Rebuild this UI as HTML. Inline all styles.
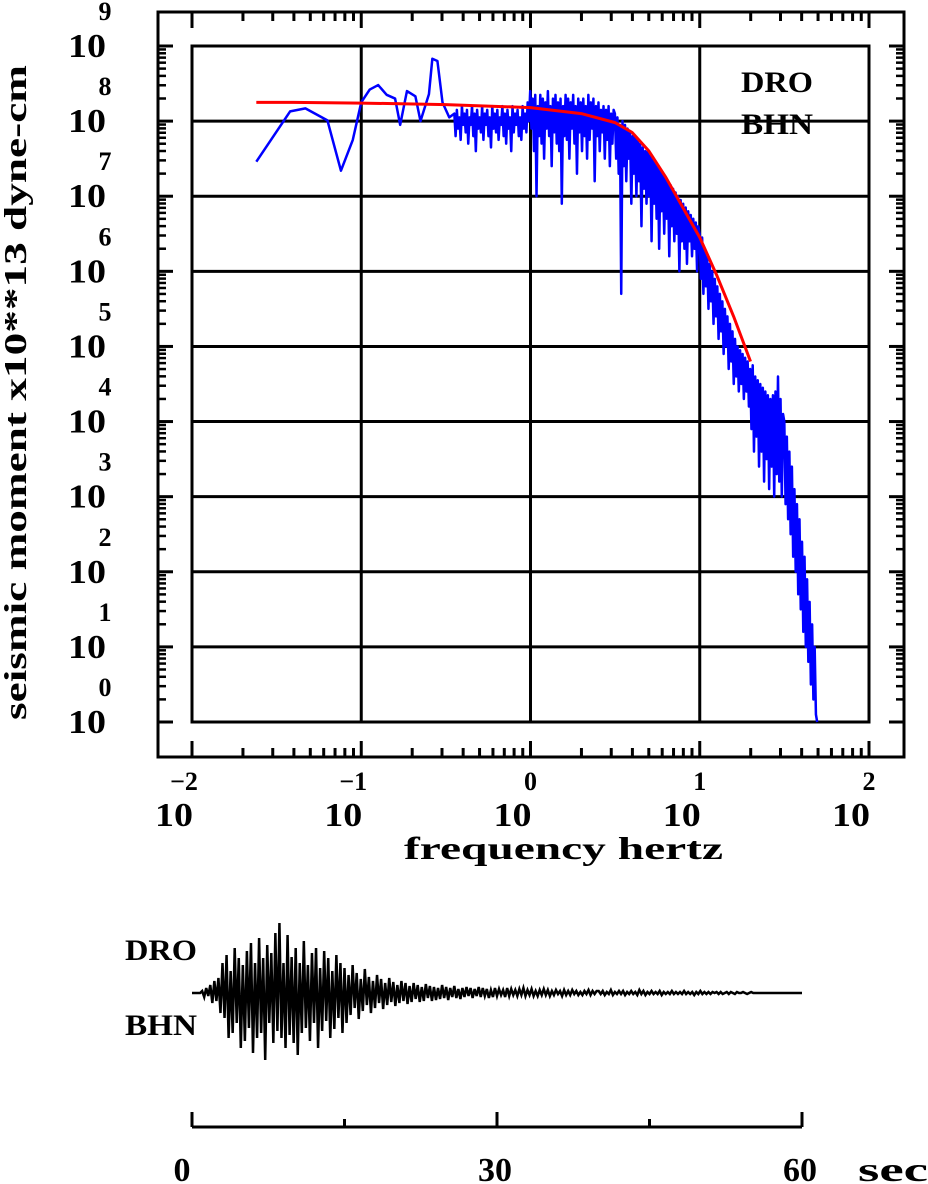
<!DOCTYPE html>
<html><head><meta charset="utf-8">
<style>
html,body{margin:0;padding:0;background:#fff;}
svg{display:block;}
text{font-family:"Liberation Serif",serif;font-weight:bold;fill:#000;}
</style></head>
<body>
<svg id="chart" width="928" height="1184" viewBox="0 0 928 1184" xmlns="http://www.w3.org/2000/svg">
<g id="frame"></g>
<g id="grid"></g>
<g id="ticks"></g>
<g id="labels"></g>
<g id="series"></g>
<text x="777" y="92" font-size="30" text-anchor="middle" textLength="72" lengthAdjust="spacingAndGlyphs">DRO</text>
<text x="777" y="134" font-size="30" text-anchor="middle" textLength="72" lengthAdjust="spacingAndGlyphs">BHN</text>
<text x="404" y="859" font-size="32" textLength="319" lengthAdjust="spacingAndGlyphs">frequency  hertz</text>
<text transform="translate(26,720) rotate(-90)" font-size="32" textLength="655" lengthAdjust="spacingAndGlyphs">seismic moment x10**13 dyne-cm</text>
<text x="125" y="960" font-size="30" textLength="72" lengthAdjust="spacingAndGlyphs">DRO</text>
<text x="125" y="1035" font-size="30" textLength="72" lengthAdjust="spacingAndGlyphs">BHN</text>
<g id="trace"></g>
<g id="taxis"></g>
</svg>
<script>
// ---- spectrum data (log10 frequency, log10 moment) ----
const lowFreqLog = [-1.62,-1.42,-1.33,-1.2,-1.12,-1.05,-1.0,-0.95,-0.9,-0.85,-0.8,-0.77,-0.73,-0.68,-0.65,-0.6,-0.58,-0.55,-0.52,-0.48];
const lowAmpLog = [7.46,8.13,8.17,8.01,7.34,7.75,8.25,8.42,8.48,8.35,8.3,7.95,8.4,8.33,8.0,8.36,8.83,8.8,8.25,8.05];
const denseStartLog = -0.45;
const denseStepLog = 0.00747;
const denseAmpLog = [
8.1,7.8,8.15,7.9,8.05,7.75,8.2,7.95,8.1,7.85,8.15,7.7,8.05,7.95,8.2,7.8,8.1,7.6,8.15,7.9,8.05,7.85,8.2,7.75,8.1,7.95,8.15,7.8,8.05,7.65,8.2,7.9,8.1,7.85,8.15,7.75,8.05,7.95,8.2,7.8,8.1,7.7,8.15,7.9,8.05,7.6,8.2,7.85,8.1,7.95,8.15,7.8,8.05,7.75,8.2,7.9,8.1,7.85,8.25,8.0,
8.4,7.9,8.3,7.6,8.35,7.0,8.2,7.8,8.35,7.7,8.3,7.5,8.25,7.9,8.4,7.8,8.2,7.4,8.3,7.85,8.35,7.7,8.25,7.6,8.3,6.9,8.2,7.8,8.35,7.75,8.3,7.5,8.25,7.9,8.35,7.7,8.2,7.3,8.3,7.85,8.25,7.6,8.3,7.8,8.2,7.5,8.35,7.75,8.25,7.9,8.3,7.2,8.2,7.8,8.25,7.6,8.15,7.85,8.2,7.5,8.15,7.75,8.2,7.4,8.1,7.7,8.15,
8.1,7.5,8.05,7.3,7.95,5.7,8.0,7.4,7.95,7.2,7.9,7.5,7.85,6.9,7.8,7.3,7.8,7.0,7.75,7.2,7.7,6.6,7.65,7.1,7.6,6.9,7.6,7.0,7.55,6.4,7.5,6.9,7.45,6.7,7.4,6.3,7.35,6.8,7.3,6.5,7.25,6.7,7.2,6.2,7.15,6.6,7.1,6.4,7.05,6.5,7.0,6.0,6.95,6.4,6.9,6.3,6.85,6.1,6.8,6.4,6.75,6.2,6.7,6.3,6.65,6.0,6.6,
6.5,5.9,6.45,5.7,6.3,5.8,6.2,5.5,6.1,5.6,6.0,5.3,5.9,5.4,5.8,5.1,5.7,5.2,5.6,4.9,5.5,5.0,5.4,4.7,5.3,4.8,5.2,4.5,5.1,4.6,5.0,4.4,4.95,4.5,4.9,4.3,4.85,4.4,4.8,4.2,
4.7,3.9,4.75,3.6,4.6,3.8,4.55,3.4,4.5,3.6,4.45,3.2,4.4,3.5,4.35,3.1,4.3,3.4,4.35,3.0,4.4,3.3,4.6,3.2,4.3,3.0,4.1,
4.0,2.9,3.8,2.7,3.6,2.5,3.4,2.2,3.1,2.0,2.9,1.7,2.7,1.5,2.4,1.2,2.2,1.0,1.9,0.8,1.6,0.5,1.3,0.3,1.0,0.1,0.0];
const modelFreqLog = [-1.62,-1.4,-1.0,-0.5,0,0.3,0.5,0.6,0.7,0.8,0.9,1.0,1.1,1.2,1.3];
const modelAmpLog = [8.25,8.25,8.24,8.22,8.18,8.1,7.98,7.85,7.6,7.25,6.85,6.45,5.95,5.4,4.8];
const xDecades = [-2,-1,0,1,2];
const yDecades = [0,1,2,3,4,5,6,7,8,9];
// ---- seismogram data (counts, 0.2 s sample) ----
const traceDt = 0.2;
const traceAmp = [0,0,0,0,0,
2,-4,5,-3,8,-10,12,-8,15,-20,
30,-25,38,-45,22,-40,45,-30,35,-55,28,-48,42,-35,50,-60,30,-45,55,-40,35,-67,48,-30,40,-50,60,-38,70,-45,30,-55,58,-42,36,-50,45,-62,30,-40,52,-35,28,-48,40,-30,45,-55,25,-38,42,-28,35,-45,22,-36,38,-25,30,-40,
25,-30,18,-22,28,-15,20,-26,14,-18,24,-12,16,-20,12,-15,18,-10,14,-16,10,-12,15,-9,11,-13,8,-10,12,-8,10,-11,7,-9,10,-6,8,-9,6,-8,9,-5,7,-8,6,-7,5,-6,8,-5,
6,-7,5,-4,7,-5,4,-6,5,-4,6,-3,5,-5,4,-3,6,-4,5,-3,4,-5,3,-4,5,-3,4,-2,3,-4,5,-3,4,-2,3,-3,4,-2,5,-3,3,-2,4,-3,2,-3,3,-2,4,-2,3,-3,2,-2,3,-1,2,-3,3,-2,2,-2,3,-1,2,-2,1,-2,2,-1,3,-2,2,-1,2,
2,-1,2,-2,1,-1,3,-2,1,-1,2,-1,2,-2,1,-1,2,-1,1,-2,3,-1,2,-2,1,-1,2,-1,1,-1,2,-2,1,-1,1,-1,2,-1,1,-1,1,-1,2,-1,1,-1,1,-2,1,-1,2,-1,1,-1,1,-1,1,0,1,-1,1,-1,0,1,-1,1,0,-1,1,0,0,1,0,-1,0,1,0,0,0,0,0,0,0,0,0,0,0,0,0,0,0,0,0,0,0,0,0,0,0,0];
const timeTicks = [0,30,60];

const NS="http://www.w3.org/2000/svg";
function mk(tag, attrs, parent){const e=document.createElementNS(NS,tag);for(const k in attrs)e.setAttribute(k,attrs[k]);parent.appendChild(e);return e;}
const X0=192,X1=869,Y0=722,Y1=46;
const xs = l => X0 + (l+2)*(X1-X0)/4;
const ys = l => Y0 - l*(Y0-Y1)/9;
const frame=document.getElementById('frame'),grid=document.getElementById('grid'),ticks=document.getElementById('ticks'),labels=document.getElementById('labels'),series=document.getElementById('series');

let r=mk('rect',{x:158,y:12,width:746,height:745,fill:'none',stroke:'#000','stroke-width':3},frame);


r=mk('rect',{x:X0,y:Y1,width:X1-X0,height:Y0-Y1,fill:'none',stroke:'#000','stroke-width':3},frame);



xDecades.forEach(d=>{
  const x=xs(d);
  let g=mk('line',{x1:x,y1:Y1,x2:x,y2:Y0,stroke:'#000','stroke-width':3},grid);
  
  
  mk('line',{x1:x,y1:757,x2:x,y2:741,stroke:'#000','stroke-width':3},ticks);
  mk('line',{x1:x,y1:12,x2:x,y2:28,stroke:'#000','stroke-width':3},ticks);
  if(d<2){for(let m=2;m<=9;m++){const xm=xs(d+Math.log10(m));
    mk('line',{x1:xm,y1:757,x2:xm,y2:748,stroke:'#000','stroke-width':3},ticks);
    mk('line',{x1:xm,y1:12,x2:xm,y2:21,stroke:'#000','stroke-width':3},ticks);}}
  let t=mk('text',{x:x-18,y:826,'font-size':34,'text-anchor':'middle',textLength:38,lengthAdjust:'spacingAndGlyphs'},labels);t.textContent='10';
  
  
  t=mk('text',{x:x-(d<0?8:0),y:790,'font-size':26,'text-anchor':'middle'},labels);t.textContent=(d<0?'\u2212':'')+Math.abs(d);
  
  
});
yDecades.forEach(d=>{
  const y=ys(d);
  let g=mk('line',{x1:X0,y1:y,x2:X1,y2:y,stroke:'#000','stroke-width':3},grid);
  
  
  mk('line',{x1:158,y1:y,x2:173,y2:y,stroke:'#000','stroke-width':3},ticks);
  mk('line',{x1:904,y1:y,x2:889,y2:y,stroke:'#000','stroke-width':3},ticks);
  if(d<9){for(let m=2;m<=9;m++){const ym=ys(d+Math.log10(m));
    mk('line',{x1:158,y1:ym,x2:166,y2:ym,stroke:'#000','stroke-width':2.5},ticks);
    mk('line',{x1:904,y1:ym,x2:896,y2:ym,stroke:'#000','stroke-width':2.5},ticks);}}
  let t=mk('text',{x:87,y:y+11,'font-size':34,'text-anchor':'middle',textLength:38,lengthAdjust:'spacingAndGlyphs'},labels);t.textContent='10';
  
  
  t=mk('text',{x:105,y:y-26,'font-size':26,'text-anchor':'middle'},labels);t.textContent=String(d);
  
  
});

// blue spectrum
let pts=[];
lowFreqLog.forEach((f,i)=>pts.push(xs(f)+','+ys(lowAmpLog[i])));
denseAmpLog.forEach((a,i)=>pts.push(xs(denseStartLog+i*denseStepLog)+','+ys(a)));
let p=mk('polyline',{points:pts.join(' '),fill:'none',stroke:'#0000ff','stroke-width':2.5,'stroke-linejoin':'round'},series);


pts=modelFreqLog.map((f,i)=>xs(f)+','+ys(modelAmpLog[i]));
p=mk('polyline',{points:pts.join(' '),fill:'none',stroke:'#ff0000','stroke-width':3,'stroke-linejoin':'round'},series);



// seismogram
const T0=192,T1=802,TB=993;
const ts=t=>T0+t*(T1-T0)/60;
const trace=document.getElementById('trace');
pts=[];
traceAmp.forEach((a,i)=>pts.push(ts(i*traceDt)+','+(TB-a)));
pts.push(ts(60)+','+TB);
p=mk('polyline',{points:pts.join(' '),fill:'none',stroke:'#000','stroke-width':2.5},trace);



const taxis=document.getElementById('taxis');
let l=mk('line',{x1:ts(0),y1:1127,x2:ts(60),y2:1127,stroke:'#000','stroke-width':3},taxis);


for(let t=0;t<=60;t+=15){const big=timeTicks.includes(t);
  mk('line',{x1:ts(t),y1:1127,x2:ts(t),y2:big?1112:1119,stroke:'#000','stroke-width':3},taxis);}
timeTicks.forEach(t=>{let e=mk('text',{x:ts(t)-(t===0?10:2),y:1181,'font-size':34,'text-anchor':'middle'},taxis);e.textContent=String(t);
  
  });
let s=mk('text',{x:858,y:1181,'font-size':34,textLength:70,lengthAdjust:'spacingAndGlyphs'},taxis);s.textContent='sec';


</script>
</body></html>
